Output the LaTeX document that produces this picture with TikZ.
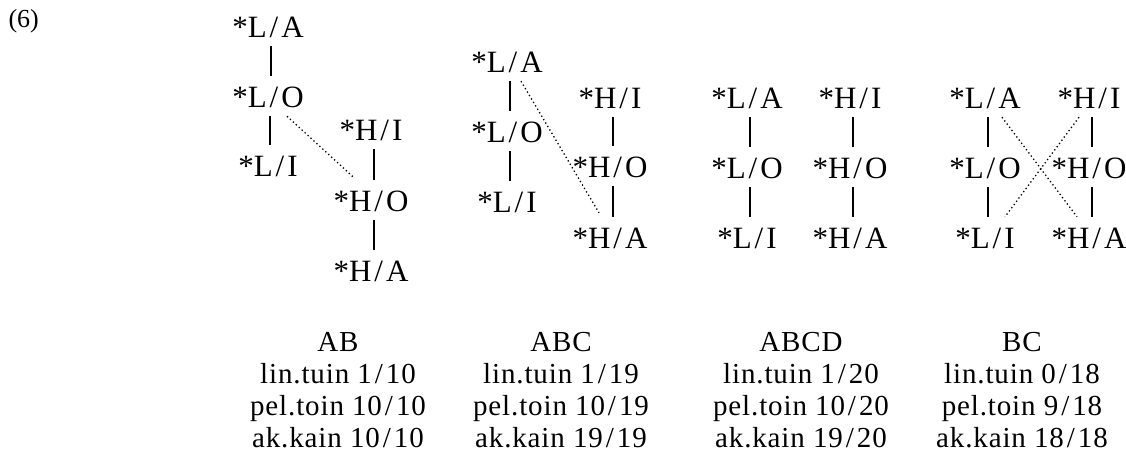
\documentclass[tikz,border=0pt]{standalone}
\usepackage{fontspec}
\setmainfont{Liberation Serif}
\newfontfamily\statfont[LetterSpace=3]{Liberation Serif}
\newcommand{\tn}[2]{*#1\kern3pt/\kern3pt#2}
\newcommand{\fr}[2]{#1\kern3pt/\kern3pt#2}

\begin{document}
\begin{tikzpicture}[x=1pt, y=-1pt,
    lab/.style={anchor=base, font=\fontsize{31}{35}\selectfont, inner xsep=2pt, inner ysep=9pt, text height=22pt, text depth=0pt},
    stat/.style={anchor=base, align=center, font=\statfont\fontsize{29}{32}\selectfont},
    link/.style={line width=1.3pt},
    cross/.style={line width=1.3pt, dash pattern=on 1.3pt off 2.7pt}]
    \useasboundingbox (0,0) rectangle (1126,461);
    \node[anchor=base west, font=\fontsize{26}{30}\selectfont] (num) at (5,27) {(6)};

    % AB
    \node[lab] (la1) at (268,37) {\tn{L}{A}};
    \node[lab] (lo1) at (268,107) {\tn{L}{O}};
    \node[lab] (li1) at (268,176) {\tn{L}{I}};
    \node[lab] (hi1) at (371,140) {\tn{H}{I}};
    \node[lab] (ho1) at (371,211) {\tn{H}{O}};
    \node[lab] (ha1) at (371,281) {\tn{H}{A}};
    \draw[link] ([xshift=3pt]la1.south) -- ([xshift=3pt]lo1.north);
    \draw[link] ([xshift=2pt]lo1.south) -- ([xshift=2pt]li1.north);
    \draw[link] ([xshift=3pt]hi1.south) -- ([xshift=3pt]ho1.north);
    \draw[link] ([xshift=3pt]ho1.south) -- ([xshift=3pt]ha1.north);
    \draw[cross] ([xshift=19pt]lo1.south) -- ([xshift=-18pt,yshift=3pt]ho1.north);
    \node[stat] (ab) at (338,447) {AB\\lin.tuin \fr{1}{10}\\pel.toin \fr{10}{10}\\ak.kain \fr{10}{10}};

    % ABC
    \node[lab] (la2) at (507,72) {\tn{L}{A}};
    \node[lab] (lo2) at (507,142) {\tn{L}{O}};
    \node[lab] (li2) at (507,212) {\tn{L}{I}};
    \node[lab] (hi2) at (610,108) {\tn{H}{I}};
    \node[lab] (ho2) at (610,177) {\tn{H}{O}};
    \node[lab] (ha2) at (610,248) {\tn{H}{A}};
    \draw[link] ([xshift=3pt]la2.south) -- ([xshift=3pt]lo2.north);
    \draw[link] ([xshift=3pt]lo2.south) -- ([xshift=3pt]li2.north);
    \draw[link] ([xshift=3pt]hi2.south) -- ([xshift=3pt]ho2.north);
    \draw[link] ([xshift=3pt]ho2.south) -- ([xshift=3pt]ha2.north);
    \draw[cross] ([xshift=14pt]la2.south) -- ([xshift=-11pt,yshift=4pt]ha2.north);
    \node[stat] (abc) at (561,447) {ABC\\lin.tuin \fr{1}{19}\\pel.toin \fr{10}{19}\\ak.kain \fr{19}{19}};

    % ABCD
    \node[lab] (la3) at (747,108) {\tn{L}{A}};
    \node[lab] (lo3) at (747,178) {\tn{L}{O}};
    \node[lab] (li3) at (747,248) {\tn{L}{I}};
    \node[lab] (hi3) at (850,108) {\tn{H}{I}};
    \node[lab] (ho3) at (850,178) {\tn{H}{O}};
    \node[lab] (ha3) at (850,248) {\tn{H}{A}};
    \draw[link] ([xshift=3pt]la3.south) -- ([xshift=3pt]lo3.north);
    \draw[link] ([xshift=3pt]lo3.south) -- ([xshift=3pt]li3.north);
    \draw[link] ([xshift=3pt]hi3.south) -- ([xshift=3pt]ho3.north);
    \draw[link] ([xshift=3pt]ho3.south) -- ([xshift=3pt]ha3.north);
    \node[stat] (abcd) at (801,447) {ABCD\\lin.tuin \fr{1}{20}\\pel.toin \fr{10}{20}\\ak.kain \fr{19}{20}};

    % BC
    \node[lab] (la4) at (985,108) {\tn{L}{A}};
    \node[lab] (lo4) at (985,178) {\tn{L}{O}};
    \node[lab] (li4) at (985,248) {\tn{L}{I}};
    \node[lab] (hi4) at (1089,108) {\tn{H}{I}};
    \node[lab] (ho4) at (1089,178) {\tn{H}{O}};
    \node[lab] (ha4) at (1089,248) {\tn{H}{A}};
    \draw[link] ([xshift=3pt]la4.south) -- ([xshift=3pt]lo4.north);
    \draw[link] ([xshift=3pt]lo4.south) -- ([xshift=3pt]li4.north);
    \draw[link] ([xshift=3pt]hi4.south) -- ([xshift=3pt]ho4.north);
    \draw[link] ([xshift=3pt]ho4.south) -- ([xshift=3pt]ha4.north);
    \draw[cross] ([xshift=17pt]la4.south) -- ([xshift=-12pt]ha4.north);
    \draw[cross] ([xshift=-10pt]hi4.south) -- ([xshift=20pt]li4.north);
    \node[stat] (bc) at (1022,447) {BC\\lin.tuin \fr{0}{18}\\pel.toin \fr{9}{18}\\ak.kain \fr{18}{18}};
\end{tikzpicture}
\end{document}
